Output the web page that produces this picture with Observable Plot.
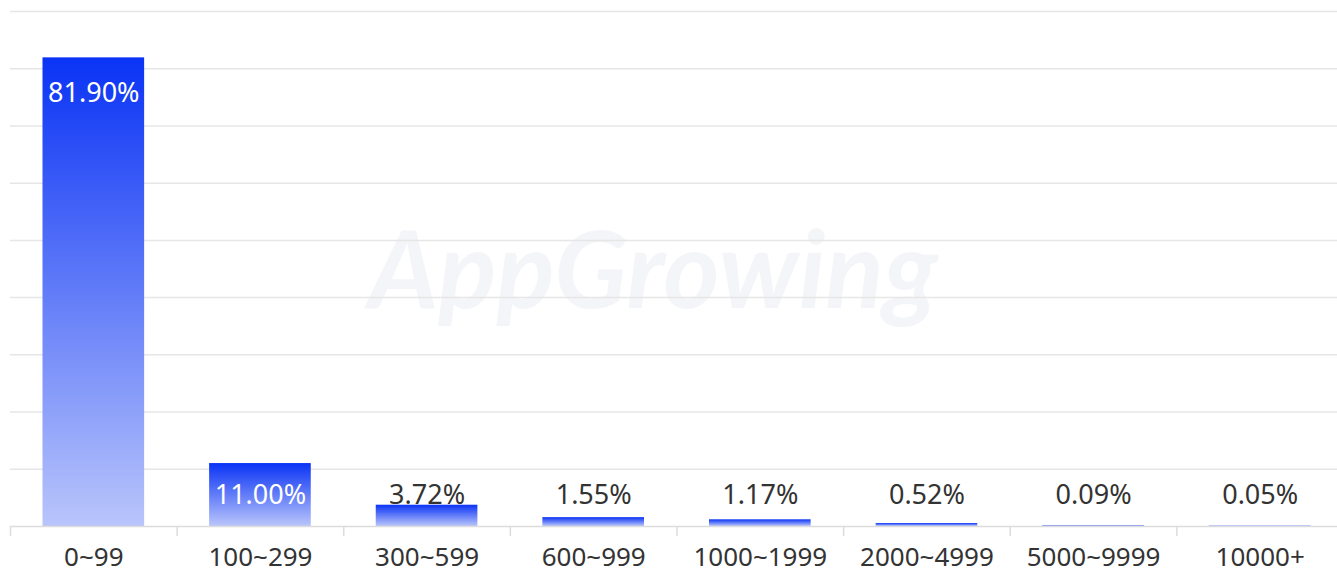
<!DOCTYPE html>
<html>
<head>
<meta charset="utf-8">
<script src="https://cdn.jsdelivr.net/npm/d3@7"></script>
<script src="https://cdn.jsdelivr.net/npm/@observablehq/plot@0.6"></script>
<style>
  html, body { margin: 0; padding: 0; background: #fff; overflow: hidden; width: 1337px; }
  #chart { width: 1337px; overflow: hidden; }
  #chart svg { display: block; }
</style>
</head>
<body>
<div id="chart"></div>
<script>
const categories = ["0~99", "100~299", "300~599", "600~999", "1000~1999", "2000~4999", "5000~9999", "10000+"];
const values = [81.90, 11.00, 3.72, 1.55, 1.17, 0.52, 0.09, 0.05];
const labels = ["81.90%", "11.00%", "3.72%", "1.55%", "1.17%", "0.52%", "0.09%", "0.05%"];
const yTicks = [0, 10, 20, 30, 40, 50, 60, 70, 80, 90];

const data = categories.map((c, i) => ({ cat: c, value: values[i], label: labels[i] }));

const width = 1337, height = 574;
const marginLeft = 10, marginRight = -6, marginTop = 11, marginBottom = 48;
const yMax = 90;
const pxPerUnit = (height - marginTop - marginBottom) / yMax;
const step = (width - marginLeft - marginRight) / categories.length;

const defs = () => {
  const ns = "http://www.w3.org/2000/svg";
  const d = document.createElementNS(ns, "defs");
  const g = document.createElementNS(ns, "linearGradient");
  g.setAttribute("id", "barGrad");
  g.setAttribute("x1", "0"); g.setAttribute("y1", "0");
  g.setAttribute("x2", "0"); g.setAttribute("y2", "1");
  [["0", "#0a33f5"], ["1", "#b9c5fb"]].forEach(([o, c]) => {
    const s = document.createElementNS(ns, "stop");
    s.setAttribute("offset", o); s.setAttribute("stop-color", c);
    g.appendChild(s);
  });
  d.appendChild(g);
  return d;
};

const chart = Plot.plot({
  width, height, marginLeft, marginRight, marginTop, marginBottom,
  style: { fontFamily: "'Noto Sans', 'Open Sans', sans-serif", background: "#fff" },
  x: { domain: categories, paddingInner: 0.39, paddingOuter: 0.195, round: false, axis: null },
  y: { domain: [0, yMax], axis: null },
  marks: [
    defs,
    Plot.text(["AppGrowing"], {
      frameAnchor: "middle", dx: -24, dy: 4, text: d => d,
      fontSize: 108, fontStyle: "italic", fontWeight: "bold",
      fontFamily: "'Lato', 'Noto Sans', sans-serif",
      fill: "#f4f5f8"
    }),
    Plot.ruleY(yTicks.filter(t => t > 0), { y: d => d, stroke: "#e6e6e6", strokeWidth: 1.5 }),
    Plot.barY(data, { x: "cat", y: "value", fill: "url(#barGrad)" }),
    Plot.ruleY([0], { stroke: "#dcdcdc", strokeWidth: 1.5 }),
    Plot.ruleX(categories, { x: d => d, dx: -step / 2, y1: 0, y2: 0, insetBottom: -10, stroke: "#dcdcdc", strokeWidth: 1.5 }),
    Plot.text(data, {
      x: "cat",
      y: d => Math.max(d.value - 36 / pxPerUnit, 31 / pxPerUnit),
      text: "label",
      fill: d => d.value > 5 ? "#ffffff" : "#333333",
      fontSize: 27,
      lineAnchor: "middle"
    }),
    Plot.text(categories, {
      x: d => d, y: 0, text: d => d, dy: 31,
      fontSize: 26, fill: "#333333", lineAnchor: "middle"
    })
  ]
});
document.getElementById("chart").appendChild(chart);
</script>
</body>
</html>
